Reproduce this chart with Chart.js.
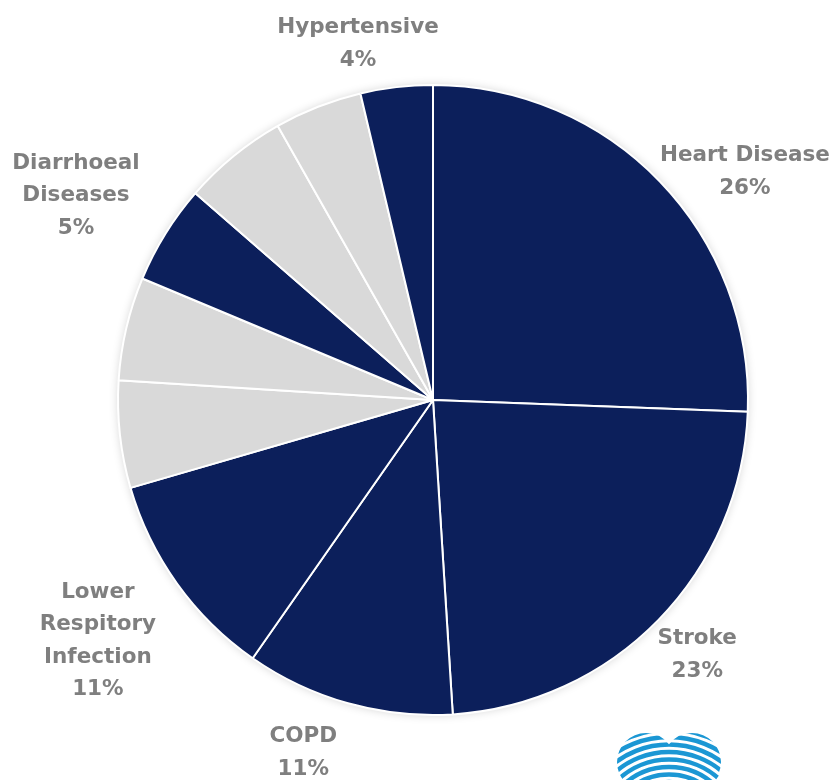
<!DOCTYPE html>
<html>
<head>
<meta charset="utf-8">
<script src="https://cdn.jsdelivr.net/npm/chart.js@4.4.1/dist/chart.umd.min.js"></script>
<style>
  body { margin: 0; background: #fff; }
  #wrap { position: relative; width: 837px; height: 780px; overflow: hidden; }
  #logo { position: absolute; left: 612px; top: 726px; }
</style>
</head>
<body>
<div id="wrap">
  <canvas id="deathChart" width="837" height="780"></canvas>
  <svg id="logo" width="116" height="60" viewBox="0 0 116 60">
    <defs>
      <clipPath id="heart">
        <circle cx="34" cy="36" r="29"/>
        <circle cx="80" cy="36" r="29"/>
        <polygon points="8,48 108,48 57,120"/>
      </clipPath>
    </defs>
    <g clip-path="url(#heart)" fill="none" stroke="#1b97d4" stroke-width="4.5" id="stripes"></g>
  </svg>
</div>
<script>
// causes of death, clockwise from 12 o'clock
var causes = ['Heart Disease', 'Stroke', 'COPD', 'Lower Respitory Infection', 'Other 1',
              'Other 2', 'Diarrhoeal Diseases', 'Other 3', 'Other 4', 'Hypertensive'];
var shares = [25.6, 23.4, 10.7, 10.8, 5.5, 5.3, 5.1, 5.4, 4.5, 3.7];
// which slices are dark (highlighted) and get a label
var highlighted = [true, true, true, true, false, false, true, false, false, true];
var labelText = [
  ['Heart Disease', '26%'],
  ['Stroke', '23%'],
  ['COPD', '11%'],
  ['Lower', 'Respitory', 'Infection', '11%'],
  null, null,
  ['Diarrhoeal', 'Diseases', '5%'],
  null, null,
  ['Hypertensive', '4%']
];
// label spot: [distance in radii from centre, angle in degrees (0 = right, clockwise)]
var labelSpot = [
  [1.227, -36.2], [1.166, 44.0], [1.193, 110.2], [1.31, 144.3], null,
  null, [1.306, -150.2], null, null, [1.155, -101.9]
];

var navy = '#0c1f5b';
var lightGrey = '#d9d9d9';

var sliceColors = highlighted.map(function(h) { return h ? navy : lightGrey; });

// draws the grey text labels next to the dark slices
var sliceLabels = {
  id: 'sliceLabels',
  afterDatasetsDraw: function(chart) {
    var ctx = chart.ctx;
    var arcs = chart.getDatasetMeta(0).data;
    ctx.save();
    ctx.fillStyle = '#7f7f7f';
    ctx.font = 'bold 21.5px "DejaVu Sans"';
    ctx.textAlign = 'center';
    ctx.textBaseline = 'middle';
    arcs.forEach(function(arc, i) {
      if (!labelText[i]) return;
      var spot = labelSpot[i];
      var a = spot[1] * Math.PI / 180;
      var cx = arc.x + Math.cos(a) * spot[0] * arc.outerRadius;
      var cy = arc.y + Math.sin(a) * spot[0] * arc.outerRadius;
      var lines = labelText[i];
      var lh = 32.5;
      var y0 = cy - (lines.length - 1) * lh / 2;
      lines.forEach(function(t, k) {
        ctx.fillText(t, cx, y0 + k * lh);
      });
    });
    ctx.restore();
  }
};

// soft shadow round the pie
var pieShadow = {
  id: 'pieShadow',
  beforeDatasetsDraw: function(chart) {
    var arc = chart.getDatasetMeta(0).data[0];
    var ctx = chart.ctx;
    ctx.save();
    ctx.shadowColor = 'rgba(0,0,0,0.18)';
    ctx.shadowBlur = 10;
    ctx.beginPath();
    ctx.arc(arc.x, arc.y, arc.outerRadius, 0, Math.PI * 2);
    ctx.fillStyle = '#ffffff';
    ctx.fill();
    ctx.restore();
  }
};

var ctx = document.getElementById('deathChart').getContext('2d');

var deathChart = new Chart(ctx, {
  type: 'pie',
  data: {
    labels: causes,
    datasets: [{
      data: shares,
      backgroundColor: sliceColors,
      borderColor: '#ffffff',
      borderWidth: 2
    }]
  },
  options: {
    responsive: false,
    animation: false,
    layout: { padding: { top: 84, bottom: 64, left: 117, right: 88 } },
    plugins: {
      legend: { display: false },
      tooltip: { enabled: false }
    }
  },
  plugins: [pieShadow, sliceLabels]
});

// logo stripes
var g = document.getElementById('stripes');
for (var r = 52; r < 130; r += 7.5) {
  var c = document.createElementNS('http://www.w3.org/2000/svg', 'circle');
  c.setAttribute('cx', 57);
  c.setAttribute('cy', 108);
  c.setAttribute('r', r);
  g.appendChild(c);
}
</script>
</body>
</html>
